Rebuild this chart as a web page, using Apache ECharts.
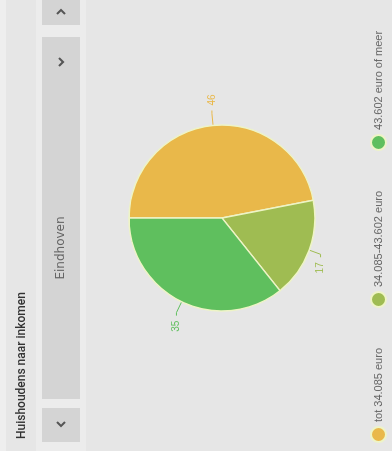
<!DOCTYPE html>
<html>
<head>
<meta charset="utf-8">
<script src="https://cdn.jsdelivr.net/npm/echarts@6/dist/echarts.min.js"></script>
<style>
  html, body { margin: 0; padding: 0; width: 392px; height: 451px; overflow: hidden; background: #e6e6e6; }
  /* the widget is laid out landscape and turned a quarter turn counter-clockwise */
  #frame { position: absolute; left: 0; top: 0; width: 451px; height: 392px;
           transform-origin: 0 0; transform: translateY(451px) rotate(-90deg); }
  #chart { width: 451px; height: 392px; }
</style>
</head>
<body>
<div id="frame"><div id="chart"></div></div>
<script>
const titleText = 'Huishoudens naar inkomen';
const regionName = 'Eindhoven';
const categories = ['tot 34.085 euro', '34.085-43.602 euro', '43.602 euro of meer'];
const values = [46, 17, 35];
const colors = ['#e9b84a', '#9fbc52', '#5fbf5e'];

const chart = echarts.init(document.getElementById('chart'), null, { renderer: 'canvas' });

const chevron = (pts) => ({
  type: 'polyline',
  shape: { points: pts },
  style: { stroke: '#555', lineWidth: 2, fill: null },
  z: 10
});

chart.setOption({
  backgroundColor: '#e6e6e6',
  animation: false,
  color: colors,
  title: {
    text: titleText,
    left: 7, top: 11,
    textStyle: { fontFamily: 'Roboto, sans-serif', fontSize: 12, fontWeight: 500, color: '#333' }
  },
  graphic: [
    { type: 'rect', shape: { x: 0, y: 0, width: 451, height: 6 }, style: { fill: '#eeeeee' } },
    { type: 'rect', shape: { x: 0, y: 36, width: 451, height: 50 }, style: { fill: '#ececec' } },
    { type: 'rect', shape: { x: 9, y: 42, width: 34, height: 38 }, style: { fill: '#d4d4d4' } },
    { type: 'rect', shape: { x: 52, y: 42, width: 362, height: 38 }, style: { fill: '#d4d4d4' } },
    { type: 'rect', shape: { x: 426, y: 42, width: 30, height: 38 }, style: { fill: '#d4d4d4' } },
    chevron([[29, 57], [25, 61], [29, 65]]),
    chevron([[385, 59], [389, 63], [393, 59]]),
    chevron([[437, 57], [441, 61], [437, 65]]),
    {
      type: 'text', x: 203, y: 61, z: 10,
      style: { text: regionName, fill: '#666', font: '12px "DejaVu Sans", sans-serif', align: 'center', verticalAlign: 'middle' }
    }
  ],
  legend: {
    left: 3, top: 365,
    itemWidth: 15, itemHeight: 15, itemGap: 40,
    icon: 'circle',
    textStyle: { fontFamily: 'Liberation Sans, Arial, sans-serif', fontSize: 11, color: '#666' },
    data: categories
  },
  series: [{
    type: 'pie',
    center: [233, 222],
    radius: 93,
    startAngle: 90,
    clockwise: true,
    avoidLabelOverlap: false,
    itemStyle: { borderColor: '#eef4c6', borderWidth: 1.5 },
    label: {
      show: true, position: 'outside',
      formatter: '{c}',
      fontFamily: 'Liberation Sans, Arial, sans-serif', fontSize: 10,
      color: 'inherit'
    },
    labelLine: { show: true, length: 12, length2: 3, lineStyle: { width: 1 } },
    emphasis: { disabled: true },
    data: categories.map((name, i) => ({ name, value: values[i], label: { color: colors[i] } }))
  }]
});
</script>
</body>
</html>
